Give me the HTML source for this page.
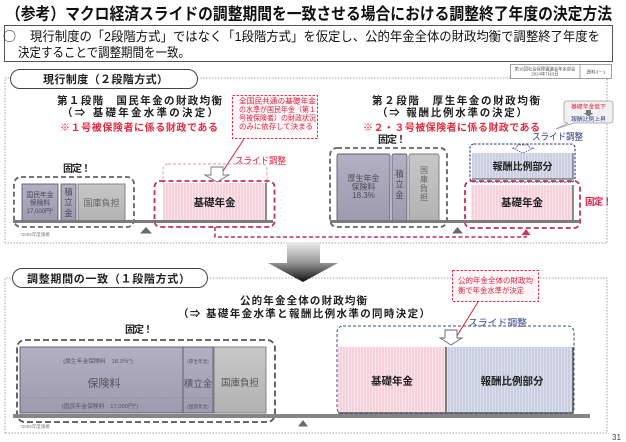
<!DOCTYPE html>
<html><head><meta charset="utf-8">
<style>
html,body{margin:0;padding:0;background:#fff;}
svg{display:block;}
text{font-family:"Liberation Sans","Noto Sans CJK JP",sans-serif;}
</style></head><body>
<svg width="626" height="442" viewBox="0 0 626 442" xmlns="http://www.w3.org/2000/svg">
<defs>
 <pattern id="pk" width="3" height="4" patternUnits="userSpaceOnUse">
  <rect width="3" height="4" fill="#f7d0db"/><rect width="1" height="4" fill="#fbe6ec"/>
 </pattern>
 <pattern id="bl" width="3" height="4" patternUnits="userSpaceOnUse">
  <rect width="3" height="4" fill="#c9cfe1"/><rect width="1" height="4" fill="#dde1ee"/>
 </pattern>
 <linearGradient id="gb" x1="0" y1="0" x2="0" y2="1">
  <stop offset="0" stop-color="#b3b0c3"/><stop offset="1" stop-color="#9e9aaf"/>
 </linearGradient>
 <linearGradient id="gg" x1="0" y1="0" x2="0" y2="1">
  <stop offset="0" stop-color="#c8c8c8"/><stop offset="1" stop-color="#b2b2b2"/>
 </linearGradient>
 <linearGradient id="ar" x1="0" y1="0" x2="0" y2="1">
  <stop offset="0" stop-color="#ececec"/><stop offset="0.5" stop-color="#9a9a9a"/><stop offset="1" stop-color="#111"/>
 </linearGradient>
</defs>

<!-- Title -->
<text x="6" y="19.5" font-size="16.5" font-weight="bold" fill="#111" textLength="606" lengthAdjust="spacingAndGlyphs">（参考）マクロ経済スライドの調整期間を一致させる場合における調整終了年度の決定方法</text>

<!-- Summary box -->
<rect x="4.5" y="25.5" width="608" height="36" fill="#fff" stroke="#555" stroke-width="1"/>
<text x="3" y="41" font-size="13" fill="#111" style="font-family:'Noto Sans CJK JP',sans-serif">○</text>
<text x="30" y="41" font-size="13" fill="#111" textLength="570" lengthAdjust="spacingAndGlyphs">現行制度の「2段階方式」ではなく「1段階方式」を仮定し、公的年金全体の財政均衡で調整終了年度を</text>
<text x="18" y="57" font-size="13" fill="#111" textLength="172" lengthAdjust="spacingAndGlyphs">決定することで調整期間を一致。</text>

<!-- Section 1 dotted frame -->
<path d="M5 243 V78 H10 M197 78 H607 V243 H5" fill="none" stroke="#888" stroke-width="0.8" stroke-dasharray="1.5 1.5"/>
<!-- Reference box -->
<rect x="510.5" y="64.5" width="101" height="14" fill="#fff" stroke="#777" stroke-width="0.7"/>
<line x1="580" y1="64.5" x2="580" y2="78.5" stroke="#777" stroke-width="0.7"/>
<text x="545" y="70.5" font-size="4.3" fill="#555" text-anchor="middle">第16回社会保障審議会年金部会</text>
<text x="545" y="75.5" font-size="4.3" fill="#555" text-anchor="middle">2024年7月3日</text>
<text x="596" y="73.5" font-size="4.6" fill="#555" text-anchor="middle">資料3－1</text>

<!-- Pill 1 -->
<rect x="10.5" y="69.5" width="187" height="19" rx="9.5" fill="#fff" stroke="#444" stroke-width="1"/>
<text x="43" y="83" font-size="11" font-weight="bold" fill="#222" textLength="125" lengthAdjust="spacing">現行制度（２段階方式）</text>

<!-- Stage 1 headings -->
<text x="57" y="104" font-size="10.5" font-weight="bold" fill="#222" textLength="165" lengthAdjust="spacing">第１段階　国民年金の財政均衡</text>
<text x="62" y="116" font-size="10.5" font-weight="bold" fill="#222" textLength="156" lengthAdjust="spacing">（⇒ 基礎年金水準の決定）</text>
<text x="60" y="131" font-size="10" font-weight="bold" fill="#e8283c" textLength="158" lengthAdjust="spacing">※１号被保険者に係る財政である</text>

<!-- Callout 1 -->
<rect x="232.5" y="95.5" width="85" height="43" fill="#fff6f8" stroke="#e03050" stroke-width="1" stroke-dasharray="2.5 1.5"/>
<text x="239" y="103.5" font-size="7.3" fill="#e0203c" textLength="77" lengthAdjust="spacingAndGlyphs">全国民共通の基礎年金</text>
<text x="239" y="112" font-size="7.3" fill="#e0203c" textLength="77" lengthAdjust="spacingAndGlyphs">の水準が国民年金（第１</text>
<text x="239" y="120.5" font-size="7.3" fill="#e0203c" textLength="77" lengthAdjust="spacingAndGlyphs">号被保険者）の財政状況</text>
<text x="239" y="129" font-size="7.3" fill="#e0203c" textLength="74" lengthAdjust="spacingAndGlyphs">のみに依存して決まる</text>
<line x1="244" y1="139" x2="219" y2="177" stroke="#e0203c" stroke-width="1"/>
<text x="235" y="164" font-size="9.5" fill="#e0203c" textLength="51" lengthAdjust="spacingAndGlyphs">スライド調整</text>

<!-- Stage 1 left: fixed blocks -->
<text x="63" y="172" font-size="10" font-weight="bold" fill="#222" textLength="28" lengthAdjust="spacing">固定！</text>
<rect x="22" y="184" width="36" height="37" fill="url(#gb)" stroke="#5d5a6b" stroke-width="0.9"/>
<text x="40" y="197" font-size="6.8" fill="#4a4a55" text-anchor="middle">国民年金</text>
<text x="40" y="205" font-size="6.8" fill="#4a4a55" text-anchor="middle">保険料</text>
<text x="40" y="213" font-size="6" fill="#4a4a55" text-anchor="middle">17,000円*</text>
<rect x="61" y="184" width="15" height="37" fill="url(#gb)" stroke="#5d5a6b" stroke-width="0.9"/>
<text x="68.5" y="195" font-size="8.5" fill="#4a4a55" text-anchor="middle">積</text>
<text x="68.5" y="205" font-size="8.5" fill="#4a4a55" text-anchor="middle">立</text>
<text x="68.5" y="216" font-size="8.5" fill="#4a4a55" text-anchor="middle">金</text>
<rect x="78" y="184" width="47" height="37" fill="url(#gg)" stroke="#7a7a7a" stroke-width="0.9"/>
<text x="101.5" y="206" font-size="9" fill="#666" text-anchor="middle">国庫負担</text>
<rect x="14" y="177" width="120" height="50" rx="7" fill="none" stroke="#666" stroke-width="1.8" stroke-dasharray="5 3"/>

<!-- Stage 1 left: pink -->
<rect x="163" y="164" width="104" height="22" rx="5" fill="none" stroke="#eaa5b8" stroke-width="1.2" stroke-dasharray="3 2"/>
<rect x="163" y="183" width="103" height="38" fill="url(#pk)"/>
<path d="M266 183 V221 H163" fill="none" stroke="#6b6b6b" stroke-width="1.5"/>
<text x="214.5" y="206" font-size="10.5" font-weight="bold" fill="#222" text-anchor="middle">基礎年金</text>
<rect x="154.5" y="181" width="120" height="46" rx="6" fill="none" stroke="#c4305a" stroke-width="1.8" stroke-dasharray="5 3"/>
<polygon points="211,167 223,167 223,175 229,175 217,182 205,175 211,175" fill="#fff" stroke="#777" stroke-width="0.9"/>

<!-- Stage 1 bar -->
<rect x="13" y="220" width="260" height="3" fill="#7b7b7b"/>
<polygon points="140,233.5 152,233.5 146,227" fill="#6a6a6a"/>
<text x="20" y="236" font-size="4.5" fill="#777">*2004年度価格</text>

<!-- connector -->
<path d="M215 227 V237 H526 V233" fill="none" stroke="#c4305a" stroke-width="1.5" stroke-dasharray="4 2.5"/>
<polygon points="521.5,235 530.5,235 526,229" fill="#d0355f"/>

<!-- Stage 2 headings -->
<text x="372" y="104" font-size="10.5" font-weight="bold" fill="#222" textLength="168" lengthAdjust="spacing">第２段階　厚生年金の財政均衡</text>
<text x="377" y="116" font-size="10.5" font-weight="bold" fill="#222" textLength="150" lengthAdjust="spacing">（⇒ 報酬比例水準の決定）</text>
<text x="363" y="131" font-size="10" font-weight="bold" fill="#e8283c" textLength="177" lengthAdjust="spacing">※２・３号被保険者に係る財政である</text>
<text x="378" y="143" font-size="10" font-weight="bold" fill="#222" textLength="28" lengthAdjust="spacing">固定！</text>

<!-- Stage 2 fixed blocks -->
<rect x="337" y="154" width="53" height="67" rx="2" fill="url(#gb)" stroke="#5d5a6b" stroke-width="0.9"/>
<text x="363.5" y="181" font-size="8" fill="#4a4a55" text-anchor="middle">厚生年金</text>
<text x="363.5" y="189.5" font-size="8" fill="#4a4a55" text-anchor="middle">保険料</text>
<text x="363.5" y="198" font-size="8" fill="#4a4a55" text-anchor="middle">18.3%</text>
<rect x="392" y="154" width="15" height="67" rx="2" fill="url(#gb)" stroke="#5d5a6b" stroke-width="0.9"/>
<text x="399.5" y="177" font-size="8.5" fill="#4a4a55" text-anchor="middle">積</text>
<text x="399.5" y="187" font-size="8.5" fill="#4a4a55" text-anchor="middle">立</text>
<text x="399.5" y="198" font-size="8.5" fill="#4a4a55" text-anchor="middle">金</text>
<rect x="409" y="154" width="30" height="67" rx="2" fill="url(#gg)" stroke="#7a7a7a" stroke-width="0.9"/>
<text x="424" y="173" font-size="8" fill="#666" text-anchor="middle">国</text>
<text x="424" y="182" font-size="8" fill="#666" text-anchor="middle">庫</text>
<text x="424" y="191" font-size="8" fill="#666" text-anchor="middle">負</text>
<text x="424" y="200" font-size="8" fill="#666" text-anchor="middle">担</text>
<rect x="330" y="148" width="117" height="79" rx="7" fill="none" stroke="#666" stroke-width="1.8" stroke-dasharray="5 3"/>

<!-- Stage 2 right stacks -->
<rect x="472" y="153" width="101" height="26" fill="url(#bl)"/>
<path d="M573 153 V179 H472" fill="none" stroke="#6b6b6b" stroke-width="1.2"/>
<text x="522.5" y="170" font-size="10" font-weight="bold" fill="#222" text-anchor="middle">報酬比例部分</text>
<rect x="470" y="144" width="105" height="38" rx="4" fill="none" stroke="#2e3d86" stroke-width="1.1" stroke-dasharray="2.5 1.5"/>
<polygon points="517,145 529,145 529,148 534,148 523,153 512,148 517,148" fill="#fff" stroke="#2e3d86" stroke-width="0.7" stroke-dasharray="1.5 1"/>
<rect x="471" y="185" width="102" height="36" fill="url(#pk)"/>
<path d="M573 185 V221 H471" fill="none" stroke="#6b6b6b" stroke-width="1.5"/>
<text x="522" y="206" font-size="10.5" font-weight="bold" fill="#222" text-anchor="middle">基礎年金</text>
<rect x="465" y="181" width="115" height="47" rx="6" fill="none" stroke="#c4305a" stroke-width="1.8" stroke-dasharray="5 3"/>
<text x="585" y="205" font-size="9.5" font-weight="bold" fill="#e0204a" textLength="27" lengthAdjust="spacing">固定！</text>
<text x="532" y="140" font-size="9.5" fill="#2e3d86" textLength="51" lengthAdjust="spacingAndGlyphs">スライド調整</text>

<!-- bubble -->
<path d="M567 101 H610 Q613 101 613 104 V120 Q613 123 610 123 H574 L556 129 L568 123 H567 Q564 123 564 120 V104 Q564 101 567 101 Z" fill="#f1f1f3" stroke="#999" stroke-width="0.7"/>
<text x="588.5" y="108.5" font-size="5.8" fill="#e0203c" text-anchor="middle">基礎年金低下</text>
<polygon points="586,110 591,110 591,113 593.5,113 588.5,116.5 583.5,113 586,113" fill="#777"/>
<text x="588.5" y="121" font-size="5.8" fill="#2e3d86" text-anchor="middle">報酬比例上昇</text>

<!-- Stage 2 bar -->
<rect x="330" y="220" width="250" height="3" fill="#7b7b7b"/>
<polygon points="452,233.5 463,233.5 457.5,227" fill="#6a6a6a"/>

<!-- Section 2 frame -->
<path d="M5 433 V278 H12 M207 278 H607 V433 H5" fill="none" stroke="#888" stroke-width="0.8" stroke-dasharray="1.5 1.5"/>

<!-- Big arrow -->
<polygon points="287,242 320,242 320,263 338,263 303,282 268,263 287,263" fill="url(#ar)"/>

<!-- Pill 2 -->
<rect x="12.5" y="268.5" width="195" height="19" rx="9.5" fill="#fff" stroke="#444" stroke-width="1"/>
<text x="27" y="282.5" font-size="11" font-weight="bold" fill="#222" textLength="163" lengthAdjust="spacing">調整期間の一致（１段階方式）</text>

<!-- Section 2 headings -->
<text x="240" y="304" font-size="10.5" font-weight="bold" fill="#222" textLength="127" lengthAdjust="spacing">公的年金全体の財政均衡</text>
<text x="178" y="317" font-size="10.5" font-weight="bold" fill="#222" textLength="252" lengthAdjust="spacing">（⇒ 基礎年金水準と報酬比例水準の同時決定）</text>
<text x="125" y="333" font-size="10" font-weight="bold" fill="#222" textLength="28" lengthAdjust="spacing">固定！</text>

<!-- Callout 2 -->
<rect x="452.5" y="270.5" width="86" height="31" fill="#fff6f8" stroke="#e03050" stroke-width="1" stroke-dasharray="2.5 1.5"/>
<text x="458" y="283" font-size="7.3" fill="#e0203c" textLength="75" lengthAdjust="spacingAndGlyphs">公的年金全体の財政均</text>
<text x="458" y="293" font-size="7.3" fill="#e0203c" textLength="66" lengthAdjust="spacingAndGlyphs">衡で年金水準が決定</text>
<line x1="478" y1="302" x2="455" y2="339" stroke="#e0203c" stroke-width="1"/>
<text x="468" y="326" font-size="9.5" fill="#3a4590" textLength="59" lengthAdjust="spacingAndGlyphs">スライド調整</text>

<!-- Section 2 fixed blocks -->
<rect x="20" y="347" width="163" height="66" fill="url(#gb)" stroke="#5d5a6b" stroke-width="0.9"/>
<text x="98" y="363" font-size="5.8" fill="#55535f" text-anchor="middle">(厚生年金保険料　18.3％*)</text>
<text x="104" y="387" font-size="11" fill="#55535f" text-anchor="middle">保険料</text>
<line x1="21" y1="398" x2="182" y2="398" stroke="#7a7788" stroke-width="0.6" stroke-dasharray="1.5 1.5"/>
<text x="100" y="408" font-size="5.8" fill="#55535f" text-anchor="middle">(国民年金保険料　17,000円*)</text>
<rect x="183" y="347" width="30" height="66" fill="url(#gb)" stroke="#5d5a6b" stroke-width="0.9"/>
<text x="198" y="363" font-size="4.6" fill="#55535f" text-anchor="middle">(厚生年金)</text>
<text x="198" y="387" font-size="9.5" fill="#55535f" text-anchor="middle">積立金</text>
<line x1="184" y1="398" x2="212" y2="398" stroke="#7a7788" stroke-width="0.6" stroke-dasharray="1.5 1.5"/>
<text x="198" y="408" font-size="4.6" fill="#55535f" text-anchor="middle">(国民年金)</text>
<rect x="214" y="347" width="52" height="66" fill="url(#gg)" stroke="#7a7a7a" stroke-width="0.9"/>
<text x="240" y="386" font-size="9.5" fill="#555" text-anchor="middle">国庫負担</text>
<rect x="17" y="340" width="258" height="82" rx="8" fill="none" stroke="#555" stroke-width="1.8" stroke-dasharray="6 3"/>

<!-- Section 2 right -->
<rect x="338" y="347" width="108" height="66" fill="url(#pk)"/>
<path d="M446 347 V413 H338" fill="none" stroke="#555" stroke-width="1.5"/>
<text x="392" y="384.5" font-size="10.5" font-weight="bold" fill="#222" text-anchor="middle">基礎年金</text>
<rect x="447" y="347" width="126" height="66" fill="url(#bl)"/>
<path d="M573 347 V413 H447" fill="none" stroke="#555" stroke-width="1.5"/>
<text x="512" y="384.5" font-size="10.5" font-weight="bold" fill="#222" text-anchor="middle">報酬比例部分</text>
<rect x="337" y="326" width="237" height="88" rx="6" fill="none" stroke="#3a4a8a" stroke-width="1" stroke-dasharray="3 2"/>
<polygon points="445,330 457,330 457,338 462,338 451,345 440,338 445,338" fill="#fff" stroke="#666" stroke-width="0.9"/>

<!-- Section 2 bar -->
<rect x="13" y="414" width="577" height="4" fill="#858585"/>
<polygon points="298,426.5 308,426.5 303,420" fill="#6a6a6a"/>
<text x="20" y="428" font-size="4.5" fill="#777">*2004年度価格</text>

<text x="612" y="440" font-size="8" fill="#444">31</text>
</svg>
</body></html>
